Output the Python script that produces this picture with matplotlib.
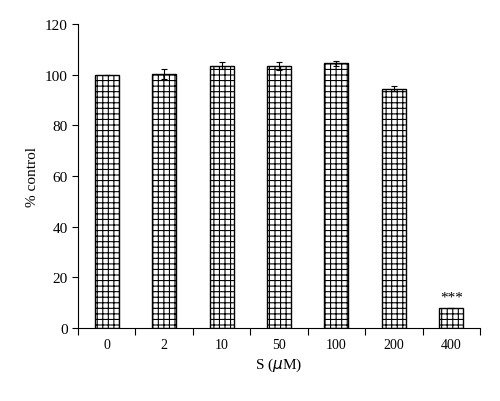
import numpy as np
import matplotlib.pyplot as plt

plt.rcParams["font.family"] = ["Liberation Serif", "DejaVu Serif"]
plt.rcParams["hatch.linewidth"] = 0.8

categories = ["0", "2", "10", "50", "100", "200", "400"]
values = [100, 100.3, 103.5, 103.5, 104.5, 94.5, 8]
errors = [0, 2, 1.3, 1.5, 1.0, 0.8, 0]

fig = plt.figure(figsize=(5, 4.02), dpi=100)
ax = fig.add_axes([0.156, 0.182, 0.804, 0.756])
x = np.arange(len(categories))
ax.bar(x, values, width=0.42, color="white", edgecolor="black", hatch="+++",
       linewidth=1.0, yerr=errors, capsize=2.5, error_kw={"elinewidth": 0.8, "capthick": 0.8})
ax.text(x[-1], values[-1] + 1.5, "***", ha="center", va="bottom", fontsize=11)

ax.set_xlim(-0.5, len(categories) - 0.5)
ax.set_ylim(0, 120)
ax.set_yticks(range(0, 121, 20))
ax.set_xticks(np.arange(-0.5, len(categories), 1.0))
ax.set_xticklabels([])
ax.tick_params(axis="x", which="major", direction="out", length=5)
ax.set_xticks(x, minor=True)
ax.set_xticklabels(categories, minor=True)
ax.tick_params(axis="x", which="minor", length=0, pad=7)
ax.tick_params(axis="y", direction="out", length=4)
ax.tick_params(labelsize=11)
ax.spines["top"].set_visible(False)
ax.spines["right"].set_visible(False)
ax.set_xlabel("S ($\\mu$M)", fontsize=11)
ax.set_ylabel("% control", fontsize=11)

fig.savefig("out.png", dpi=100)
